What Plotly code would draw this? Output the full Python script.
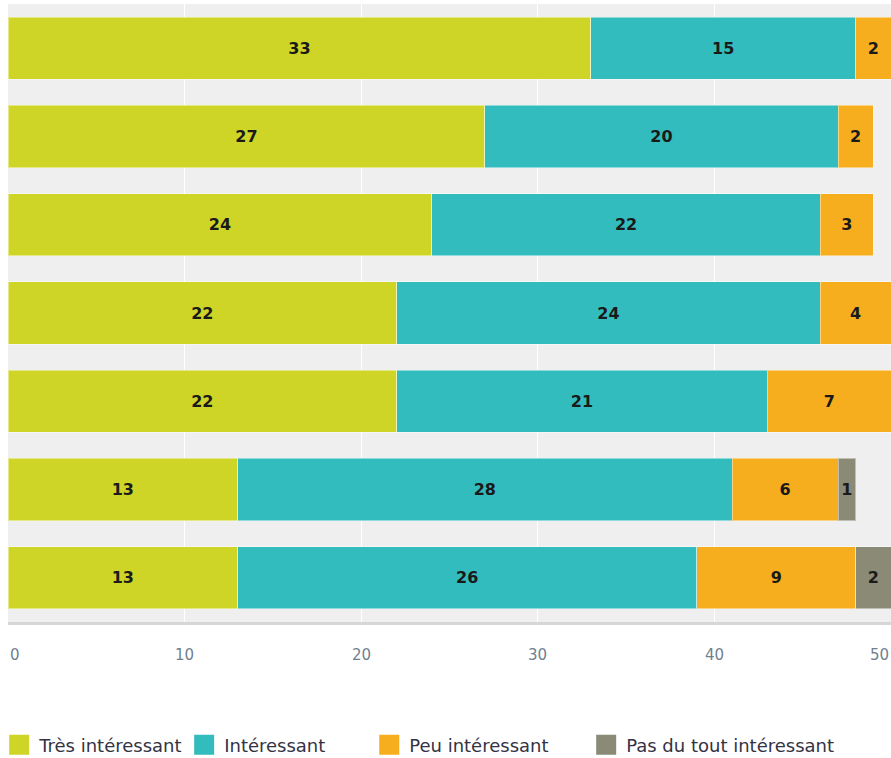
import plotly.graph_objects as go

rows = ["r1", "r2", "r3", "r4", "r5", "r6", "r7"]
series_names = ["Très intéressant", "Intéressant", "Peu intéressant", "Pas du tout intéressant"]
tres = [33, 27, 24, 22, 22, 13, 13]
inter = [15, 20, 22, 24, 21, 28, 26]
peu = [2, 2, 3, 4, 7, 6, 9]
pas = [None, None, None, None, None, 1, 2]
colors = ["#CED526", "#33BCBE", "#F6AE1E", "#8A8A77"]
tick_vals = [0, 10, 20, 30, 40, 50]
tick_text = ["0", "10", "20", "30", "40", "50"]

legend_ids = ["legend", "legend2", "legend3", "legend4"]
legend_x = [-0.0100, 0.1995, 0.4091, 0.6548]

FONT = "DejaVu Sans"

fig = go.Figure()
for name, vals, col in zip(series_names, [tres, inter, peu, pas], colors):
    fig.add_trace(go.Bar(
        y=rows, x=vals, name=name, orientation="h", showlegend=False,
        marker=dict(color=col, line=dict(color="rgba(255,255,255,0.45)", width=1)),
        text=[("" if v is None else str(v)) for v in vals],
        textposition="inside", insidetextanchor="middle", textangle=0,
        constraintext="none",
        textfont=dict(family=FONT, size=16, color="#1a1a1a", weight="bold"),
        hoverinfo="skip",
    ))

# legend entries (each in its own legend for placement)
for name, col, lid in zip(series_names, colors, legend_ids):
    fig.add_trace(go.Scatter(
        x=[None], y=[None], mode="markers", name=name, legend=lid,
        marker=dict(symbol="square", size=16, color=col, line=dict(color=col, width=4)),
        hoverinfo="skip",
    ))

leg_common = dict(orientation="h", xanchor="left", y=-0.199, yanchor="middle",
                  font=dict(family=FONT, size=18, color="#333344"),
                  bgcolor="rgba(0,0,0,0)")
layout_legends = {}
for lid, lx in zip(legend_ids, legend_x):
    layout_legends[lid] = dict(x=lx, **leg_common)

# x tick labels (first aligned left, last aligned right so they stay in view)
annotations = []
for i, (v, t) in enumerate(zip(tick_vals, tick_text)):
    anchor = "left" if i == 0 else ("right" if i == len(tick_vals) - 1 else "center")
    annotations.append(dict(
        x=v, xref="x", y=0, yref="paper", yshift=-33, yanchor="middle",
        xanchor=anchor, text=t, showarrow=False,
        font=dict(family=FONT, size=15, color="#6f7f90"),
    ))

fig.update_layout(
    width=891, height=758,
    barmode="stack", bargap=0.295,
    margin=dict(l=8, r=0, t=4, b=136, autoexpand=False),
    paper_bgcolor="white", plot_bgcolor="#efefef",
    font=dict(family=FONT, size=13, color="#333333"),
    showlegend=True,
    annotations=annotations,
    xaxis=dict(range=[0, 50.0], tickvals=tick_vals, showticklabels=False,
               showgrid=True, gridcolor="white",
               gridwidth=1, zeroline=False, showline=True, linecolor="#d6d6d6", linewidth=3,
               ticks="", fixedrange=True, automargin=False),
    yaxis=dict(autorange="reversed", showticklabels=False, showgrid=False, zeroline=False,
               showline=False, ticks="", automargin=False, fixedrange=True),
    **layout_legends,
)

fig.write_html("out.html", config={"displayModeBar": False},
               post_script="document.body.style.margin='0px';document.body.style.overflow='hidden';")
